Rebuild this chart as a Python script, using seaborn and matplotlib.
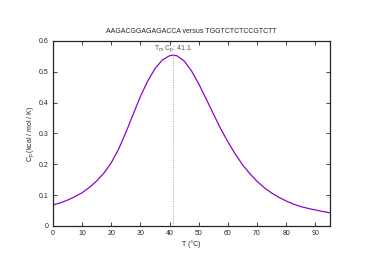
import seaborn as sns
import matplotlib.pyplot as plt
import pandas as pd

# values
temps = [0, 2.5, 5, 7.5, 10, 12.5, 15, 17.5, 20, 22.5, 25, 27.5, 30, 32.5, 35, 37.5,
         40, 41.1, 42.5, 45, 47.5, 50, 52.5, 55, 57.5, 60, 62.5, 65, 67.5, 70, 72.5,
         75, 77.5, 80, 82.5, 85, 87.5, 90, 92.5, 95]
cp = [0.068, 0.075, 0.084, 0.095, 0.108, 0.125, 0.146, 0.172, 0.205, 0.249, 0.303,
      0.362, 0.420, 0.470, 0.510, 0.538, 0.552, 0.554, 0.552, 0.535, 0.503, 0.461,
      0.413, 0.364, 0.316, 0.273, 0.234, 0.199, 0.170, 0.145, 0.124, 0.107, 0.093,
      0.081, 0.071, 0.063, 0.057, 0.052, 0.047, 0.043]
tm = 41.1
title = "AAGACGGAGAGACCA versus TGGTCTCTCCGTCTT"

df = pd.DataFrame({"T": temps, "Cp": cp})

sns.set_style("ticks")
plt.rcParams["font.family"] = ["Liberation Sans", "DejaVu Sans"]
plt.rcParams["mathtext.fontset"] = "custom"
plt.rcParams["mathtext.rm"] = "Liberation Sans"
plt.rcParams["mathtext.it"] = "Liberation Sans"

fig = plt.figure(figsize=(3.74, 2.64), dpi=100)
ax = fig.add_axes([0.1417, 0.144, 0.7403, 0.701])

sns.lineplot(data=df, x="T", y="Cp", ax=ax, color="#9400d3", linewidth=0.9)
ax.axvline(tm, ymax=0.554 / 0.6, color="#a0a0a0", linestyle=(0, (1, 1.5)), linewidth=0.7)
ax.text(tm, 0.557, r"T$_\mathrm{m}$ C$_\mathrm{p}$: 41.1", ha="center", va="bottom",
        fontsize=5, color="#555555")

ax.set_xlim(0, 95)
ax.set_ylim(0, 0.6)
ax.set_xticks(range(0, 100, 10))
ax.set_yticks([0, 0.1, 0.2, 0.3, 0.4, 0.5, 0.6])
ax.set_yticklabels(["0", "0.1", "0.2", "0.3", "0.4", "0.5", "0.6"])
ax.tick_params(direction="in", top=True, right=True, labelsize=5, length=3,
               width=0.6, pad=3)
for s in ax.spines.values():
    s.set_linewidth(0.9)
ax.set_xlabel("T (°C)", fontsize=5, labelpad=2)
ax.set_ylabel(r"C$_\mathrm{p}$ (kcal / mol / K)", fontsize=5, labelpad=2)
ax.set_title(title, fontsize=5, pad=6)

fig.savefig("out.png", dpi=100)
